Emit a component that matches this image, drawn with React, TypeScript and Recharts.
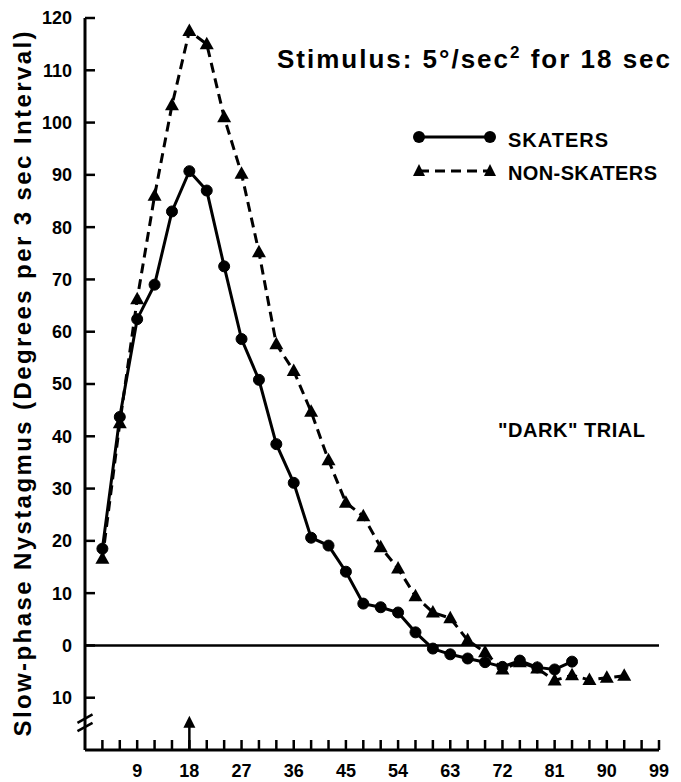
import React from "react";
import {
  LineChart,
  Line,
  XAxis,
  YAxis,
  ReferenceLine,
  ReferenceDot,
} from "recharts";

// seconds after start of the 18 sec stimulus
const times = [3, 6, 9, 12, 15, 18, 21, 24, 27, 30, 33, 36, 39, 42, 45, 48, 51, 54, 57, 60, 63, 66, 69, 72, 75, 78, 81, 84, 87, 90, 93];
const skaters = [18.5, 43.7, 62.4, 69, 83, 90.7, 87, 72.5, 58.6, 50.8, 38.5, 31.1, 20.6, 19.1, 14.1, 8.0, 7.3, 6.3, 2.5, -0.6, -1.7, -2.5, -3.2, -4.1, -2.9, -4.2, -4.6, -3.1];
const nonSkaters = [16.6, 42.5, 66.2, 86, 103.3, 117.5, 115, 101, 90.2, 75.2, 57.6, 52.5, 44.7, 35.4, 27.3, 24.7, 18.8, 14.7, 9.4, 6.3, 5.2, 1.0, -1.3, -4.6, -3.2, -4.4, -6.7, -5.7, -6.6, -6.2, -5.8];

const xTicks = [3, 6, 9, 12, 15, 18, 21, 24, 27, 30, 33, 36, 39, 42, 45, 48, 51, 54, 57, 60, 63, 66, 69, 72, 75, 78, 81, 84, 87, 90, 93, 96, 99];
const xLabels = [9, 18, 27, 36, 45, 54, 63, 72, 81, 90, 99];
const yTicks = [-10, 0, 10, 20, 30, 40, 50, 60, 70, 80, 90, 100, 110, 120];

const FONT = "'Liberation Sans', Arial, sans-serif";

const rows = times.map((t, i) => ({
  t,
  skaters: i < skaters.length ? skaters[i] : null,
  nonSkaters: nonSkaters[i],
}));

function XTick(props: any) {
  const { x, y, payload } = props;
  const v = payload.value;
  return (
    <g>
      <line x1={x} x2={x} y1={y} y2={y - 10} stroke="#000" strokeWidth={2.5} />
      {xLabels.includes(v) && (
        <text x={x} y={y + 27} textAnchor="middle" fontSize={18} fontWeight="bold" fontFamily={FONT} fill="#000">
          {v}
        </text>
      )}
    </g>
  );
}

function YTick(props: any) {
  const { x, y, payload } = props;
  const v = payload.value;
  return (
    <g>
      <line x1={x} x2={x + 10} y1={y} y2={y} stroke="#000" strokeWidth={2.5} />
      <text x={x - 13} y={y} dy="0.36em" textAnchor="end" fontSize={18} fontWeight="bold" fontFamily={FONT} fill="#000">
        {Math.abs(v)}
      </text>
    </g>
  );
}

function Triangle(props: any) {
  const { cx, cy, index } = props;
  if (cx == null || cy == null) return <g key={index} />;
  return (
    <polygon
      key={index}
      points={`${cx},${cy - 7.5} ${cx - 7},${cy + 5} ${cx + 7},${cy + 5}`}
      fill="#000"
    />
  );
}

function ArrowHead(props: any) {
  const { cx, cy } = props;
  return <polygon points={`${cx},${cy - 6} ${cx - 6},${cy + 6} ${cx + 6},${cy + 6}`} fill="#000" />;
}

export default function App() {
  return (
    <div style={{ position: "relative", width: 665, height: 774, background: "#fff" }}>
      <LineChart width={665} height={774} data={rows} margin={{ top: 10, right: 14, bottom: 0, left: 0 }}>
        <XAxis
          dataKey="t"
          type="number"
          domain={[0, 99]}
          ticks={xTicks}
          interval={0}
          tick={<XTick />}
          tickLine={false}
          tickSize={0}
          tickMargin={0}
          height={32}
          axisLine={{ stroke: "#000", strokeWidth: 3 }}
        />
        <YAxis
          type="number"
          domain={[-20, 120]}
          ticks={yTicks}
          interval={0}
          tick={<YTick />}
          tickLine={false}
          tickSize={0}
          tickMargin={0}
          width={77}
          axisLine={{ stroke: "#000", strokeWidth: 3 }}
        />
        <ReferenceLine y={0} stroke="#000" strokeWidth={2.5} />
        {/* axis break */}
        <ReferenceLine
          segment={[{ x: 0, y: -14.0 }, { x: 0, y: -15.6 }]}
          stroke="#fff"
          strokeWidth={8}
          ifOverflow="visible"
        />
        <ReferenceLine
          segment={[{ x: -1.3, y: -14.8 }, { x: 1.3, y: -13.2 }]}
          stroke="#000"
          strokeWidth={2.5}
          ifOverflow="visible"
        />
        <ReferenceLine
          segment={[{ x: -1.3, y: -16.4 }, { x: 1.3, y: -14.8 }]}
          stroke="#000"
          strokeWidth={2.5}
          ifOverflow="visible"
        />
        {/* end of stimulus marker */}
        <ReferenceLine
          segment={[{ x: 18, y: -20 }, { x: 18, y: -15.5 }]}
          stroke="#000"
          strokeWidth={2.5}
        />
        <ReferenceDot x={18} y={-14.6} shape={<ArrowHead />} />
        <Line
          dataKey="nonSkaters"
          type="linear"
          stroke="#000"
          strokeWidth={3}
          strokeDasharray="10 6"
          dot={<Triangle />}
          isAnimationActive={false}
        />
        <Line
          dataKey="skaters"
          type="linear"
          stroke="#000"
          strokeWidth={3}
          dot={{ r: 5.5, fill: "#000", stroke: "#000", strokeWidth: 1 }}
          isAnimationActive={false}
        />
      </LineChart>
      <svg
        width={665}
        height={774}
        style={{ position: "absolute", left: 0, top: 0, pointerEvents: "none" }}
        fontFamily={FONT}
        fontWeight="bold"
      >
        <text x={269} y={60} fontSize={26} textLength={393} lengthAdjust="spacing">
          Stimulus: 5°/sec
          <tspan dy={-10} fontSize={17}>2</tspan>
          <tspan dy={10}> for 18 sec</tspan>
        </text>
        <line x1={411} x2={482} y1={129} y2={129} stroke="#000" strokeWidth={3} />
        <circle cx={411} cy={129} r={6} fill="#000" />
        <circle cx={482} cy={129} r={6} fill="#000" />
        <text x={500} y={139} fontSize={20} textLength={100} lengthAdjust="spacing">
          SKATERS
        </text>
        <line x1={411} x2={482} y1={163} y2={163} stroke="#000" strokeWidth={3} strokeDasharray="10 6" />
        <polygon points="411,156 405,168 417,168" fill="#000" />
        <polygon points="482,156 476,168 488,168" fill="#000" />
        <text x={500} y={172} fontSize={20} textLength={149} lengthAdjust="spacing">
          NON-SKATERS
        </text>
        <text x={490} y={429} fontSize={20} textLength={147} lengthAdjust="spacing">
          "DARK" TRIAL
        </text>
        <text
          x={23}
          y={376}
          fontSize={24}
          textAnchor="middle"
          textLength={705}
          lengthAdjust="spacing"
          transform="rotate(-90, 23, 376)"
        >
          Slow-phase Nystagmus (Degrees per 3 sec Interval)
        </text>
      </svg>
    </div>
  );
}
